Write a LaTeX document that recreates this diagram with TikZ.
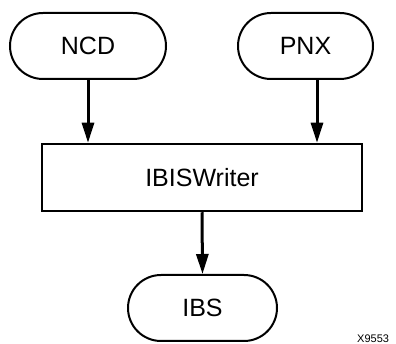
\documentclass[tikz,border=0pt]{standalone}
\usepackage{fontspec}
\setmainfont{Liberation Sans}
\usetikzlibrary{arrows.meta}

\tikzset{
  pill/.style={draw, line width=2pt, rounded corners=33pt, minimum height=66pt, font=\fontsize{25}{29}\selectfont},
  tool/.style={draw, line width=2.5pt, minimum width=320pt, minimum height=67pt, font=\fontsize{25}{29}\selectfont},
  flow/.style={-{Triangle[length=20pt, width=12pt]}, line width=3pt}
}

\begin{document}
\begin{tikzpicture}[x=1pt, y=-1pt]
        \useasboundingbox (0,0) rectangle (396,344);

        % inputs
        \node[pill, minimum width=156pt] (ncd) at (88, 46) {NCD};
        \node[pill, minimum width=135pt] (pnx) at (305.5, 46) {PNX};

        % program
        \node[tool] (writer) at (202, 177.5) {IBISWriter};

        % output
        \node[pill, minimum width=149pt] (ibs) at (202.5, 308) {IBS};

        \draw[flow] (ncd.south) -- (ncd.south |- writer.north);
        \draw[flow] ([xshift=11.5pt]pnx.south) -- ([xshift=11.5pt]pnx.south |- writer.north);
        \draw[flow] (writer.south) -- (ibs.north);

        \node[anchor=south west, inner sep=0pt, font=\fontsize{11}{13}\selectfont] (fig) at (357, 343) {X9553};
    \end{tikzpicture}
\end{document}
